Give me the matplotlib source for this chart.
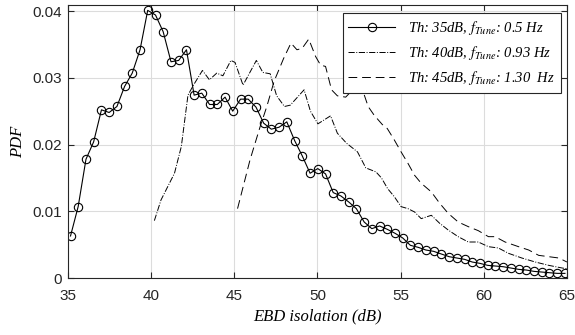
import matplotlib
matplotlib.use("Agg")
import matplotlib.pyplot as plt

plt.rcParams['mathtext.fontset'] = 'stix'

# Series 1: Th 35 dB (circles)
x_th35 = [35.16, 35.62, 36.09, 36.55, 37.02, 37.48, 37.95, 38.41, 38.87, 39.34,
          39.80, 40.27, 40.73, 41.20, 41.66, 42.13, 42.59, 43.05, 43.52, 43.98,
          44.45, 44.91, 45.38, 45.84, 46.31, 46.77, 47.23, 47.70, 48.16, 48.63,
          49.09, 49.56, 50.02, 50.49, 50.95, 51.41, 51.88, 52.34, 52.81, 53.27,
          53.74, 54.20, 54.67, 55.13, 55.59, 56.06, 56.52, 56.99, 57.45, 57.92,
          58.38, 58.85, 59.31, 59.77, 60.24, 60.70, 61.17, 61.63, 62.10, 62.56,
          63.02, 63.49, 63.95, 64.42, 64.88]
y_th35 = [0.0063, 0.0107, 0.0178, 0.0204, 0.0252, 0.0248, 0.0257, 0.0287, 0.0307, 0.0342,
          0.0401, 0.0394, 0.0369, 0.0324, 0.0326, 0.0342, 0.0274, 0.0277, 0.0260, 0.0260,
          0.0271, 0.0250, 0.0268, 0.0268, 0.0256, 0.0232, 0.0223, 0.0226, 0.0234, 0.0206,
          0.0183, 0.0157, 0.0164, 0.0156, 0.0128, 0.0123, 0.0114, 0.0104, 0.0084, 0.0074,
          0.0078, 0.0073, 0.0067, 0.0060, 0.0049, 0.0046, 0.0042, 0.0040, 0.0036, 0.0032,
          0.0030, 0.0028, 0.0024, 0.0022, 0.0019, 0.0018, 0.0017, 0.0015, 0.0013, 0.0012,
          0.0010, 0.0009, 0.0008, 0.0007, 0.0007]

# Series 2: Th 40 dB (dash-dot)
x_th40 = [40.20, 40.60, 41.41, 41.82, 42.22, 42.55, 43.09, 43.51, 43.95, 44.32,
          44.80, 45.05, 45.53, 46.33, 46.72, 47.16, 47.55, 48.02, 48.37, 49.20,
          49.58, 50.03, 50.79, 51.20, 51.75, 52.41, 52.91, 53.52, 53.85, 54.22,
          54.62, 55.03, 55.44, 55.84, 56.24, 56.85, 57.35, 57.86, 58.46, 59.07,
          59.67, 60.28, 60.88, 61.49, 62.29, 63.10, 63.91, 64.72, 65.00]
y_th40 = [0.0086, 0.0117, 0.0157, 0.0197, 0.0274, 0.0289, 0.0311, 0.0297, 0.0307, 0.0303,
          0.0326, 0.0323, 0.0289, 0.0326, 0.0308, 0.0306, 0.0273, 0.0257, 0.0259, 0.0282,
          0.0250, 0.0231, 0.0243, 0.0217, 0.0202, 0.0189, 0.0165, 0.0159, 0.0150, 0.0134,
          0.0122, 0.0107, 0.0104, 0.0099, 0.0089, 0.0094, 0.0082, 0.0072, 0.0062, 0.0054,
          0.0054, 0.0047, 0.0045, 0.0037, 0.0030, 0.0024, 0.0019, 0.0015, 0.0014]

# Series 3: Th 45 dB (dashed)
x_th45 = [45.20, 45.95, 46.56, 46.96, 47.40, 47.97, 48.41, 48.77, 49.08, 49.48,
          49.89, 50.19, 50.49, 50.85, 51.20, 51.70, 52.20, 52.78, 53.05, 53.41,
          53.90, 54.20, 54.62, 55.03, 55.44, 55.84, 56.24, 56.85, 57.35, 57.86,
          58.46, 59.07, 59.67, 60.28, 60.68, 61.28, 62.09, 62.70, 63.30, 63.91,
          64.52, 65.00]
y_th45 = [0.0104, 0.0177, 0.0227, 0.0257, 0.0295, 0.0329, 0.0352, 0.0342, 0.0344, 0.0358,
          0.0332, 0.0319, 0.0317, 0.0282, 0.0273, 0.0271, 0.0284, 0.0277, 0.0257, 0.0244,
          0.0230, 0.0224, 0.0207, 0.0189, 0.0172, 0.0154, 0.0142, 0.0129, 0.0112, 0.0097,
          0.0084, 0.0077, 0.0071, 0.0062, 0.0062, 0.0054, 0.0047, 0.0042, 0.0034, 0.0032,
          0.0030, 0.0024]

labels = [r"Th: 35dB, $f_{Tune}$: 0.5 Hz",
          r"Th: 40dB, $f_{Tune}$: 0.93 Hz",
          r"Th: 45dB, $f_{Tune}$: 1.30  Hz"]
xticks = [35, 40, 45, 50, 55, 60, 65]
yticks = [0, 0.01, 0.02, 0.03, 0.04]
ytick_labels = ["0", "0.01", "0.02", "0.03", "0.04"]

fig = plt.figure(figsize=(5.75, 3.35), dpi=100)
ax = fig.add_axes([0.118, 0.170, 0.868, 0.815])

ax.plot(x_th35, y_th35, '-', color='black', lw=0.8, marker='o', ms=6.0,
        mfc='none', mec='black', mew=0.8, label=labels[0])
ax.plot(x_th40, y_th40, '-.', color='black', lw=0.7, label=labels[1])
ax.plot(x_th45, y_th45, '--', color='black', lw=0.7, dashes=(9, 5), label=labels[2])

ax.set_xlim(35, 65)
ax.set_ylim(0, 0.0409)
ax.set_xticks(xticks)
ax.set_yticks(yticks)
ax.set_yticklabels(ytick_labels)
ax.grid(True, color='#dcdcdc', lw=0.8)
ax.set_axisbelow(True)
ax.tick_params(direction='in', top=True, right=True, length=4, width=0.8,
               labelsize=11, color='#262626')
ax.tick_params(axis='x', pad=8)
ax.tick_params(axis='y', pad=4)
for lab in ax.get_xticklabels() + ax.get_yticklabels():
    lab.set_fontfamily('Liberation Sans')
    lab.set_color('#262626')
for sp in ax.spines.values():
    sp.set_color('#262626')
    sp.set_linewidth(0.8)

ax.set_xlabel("EBD isolation (dB)", fontfamily='Liberation Serif', style='italic',
              fontsize=12, labelpad=4)
ax.set_ylabel("PDF", fontfamily='Liberation Serif', style='italic', fontsize=12,
              labelpad=5)

leg = ax.legend(loc='upper right', bbox_to_anchor=(0.988, 0.971), borderaxespad=0,
                fancybox=False, framealpha=1, edgecolor='#262626', handlelength=3.2,
                prop={'family': 'Liberation Serif', 'style': 'italic', 'size': 10.5},
                borderpad=0.4, labelspacing=0.5, handletextpad=0.9)
leg.get_frame().set_linewidth(0.8)

fig.savefig("out.png", dpi=100)
